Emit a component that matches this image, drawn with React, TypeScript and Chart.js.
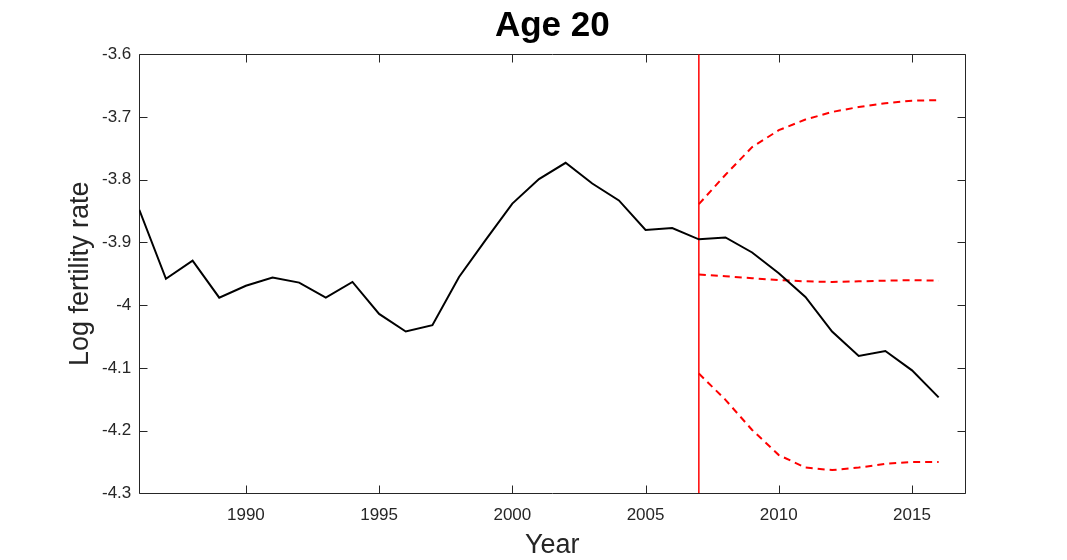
import React, { useEffect, useRef } from "react";
import { Chart, registerables } from "chart.js";

Chart.register(...registerables);

// ---- data ----
const years = [
  1986, 1987, 1988, 1989, 1990, 1991, 1992, 1993, 1994, 1995, 1996,
  1997, 1998, 1999, 2000, 2001, 2002, 2003, 2004, 2005, 2006, 2007,
  2008, 2009, 2010, 2011, 2012, 2013, 2014, 2015, 2016,
];
const observed = [
  -3.848, -3.958, -3.929, -3.988, -3.969, -3.956, -3.964, -3.988, -3.963,
  -4.014, -4.042, -4.032, -3.955, -3.896, -3.838, -3.799, -3.773, -3.806,
  -3.833, -3.88, -3.877, -3.895, -3.892, -3.916, -3.949, -3.987, -4.042,
  -4.081, -4.073, -4.104, -4.147,
];
const forecastYears = [2007, 2008, 2009, 2010, 2011, 2012, 2013, 2014, 2015, 2016];
const forecastMean = [-3.951, -3.954, -3.957, -3.96, -3.962, -3.963, -3.962, -3.961, -3.96, -3.961];
const forecastUpper = [-3.839, -3.792, -3.748, -3.721, -3.704, -3.692, -3.684, -3.678, -3.674, -3.673];
const forecastLower = [-4.109, -4.151, -4.199, -4.239, -4.259, -4.263, -4.259, -4.253, -4.25, -4.25];
const forecastOrigin = 2007;

const xTickValues = [1990, 1995, 2000, 2005, 2010, 2015];
const yTickValues = [-4.3, -4.2, -4.1, -4.0, -3.9, -3.8, -3.7, -3.6];
const xRange = [1986, 2017];
const yRange = [-4.3, -3.6];

const titleText = "Age 20";
const xLabel = "Year";
const yLabel = "Log fertility rate";

const FONT = "'Liberation Sans', Arial, Helvetica, sans-serif";
const AXIS_COLOR = "#262626";

const toPoints = (xs: number[], ys: number[]) => xs.map((x, i) => ({ x, y: ys[i] }));

const boxPlugin = {
  id: "matlabBox",
  beforeDatasetsDraw(chart: any) {
    const { ctx, chartArea: a, scales } = chart;
    const l = Math.round(a.left) + 0.5;
    const r = Math.round(a.right) + 0.5;
    const t = Math.round(a.top) + 0.5;
    const b = Math.round(a.bottom) + 0.5;
    const L = 8;
    ctx.save();
    ctx.strokeStyle = AXIS_COLOR;
    ctx.lineWidth = 1;
    ctx.beginPath();
    ctx.rect(l, t, r - l, b - t);
    for (const tk of scales.x.ticks) {
      const px = Math.round(scales.x.getPixelForValue(tk.value)) + 0.5;
      ctx.moveTo(px, b);
      ctx.lineTo(px, b - L);
      ctx.moveTo(px, t);
      ctx.lineTo(px, t + L);
    }
    for (const tk of scales.y.ticks) {
      const py = Math.round(scales.y.getPixelForValue(tk.value)) + 0.5;
      ctx.moveTo(l, py);
      ctx.lineTo(l + L, py);
      ctx.moveTo(r, py);
      ctx.lineTo(r - L, py);
    }
    ctx.stroke();
    ctx.restore();
  },
};

export default function App() {
  const ref = useRef<HTMLCanvasElement | null>(null);

  useEffect(() => {
    document.body.style.margin = "0";
    const canvas = ref.current;
    if (!canvas) return;
    const chart = new Chart(canvas, {
      type: "line",
      data: {
        datasets: [
          {
            data: toPoints(years, observed),
            borderColor: "#000000",
            borderWidth: 2,
            pointRadius: 0,
            tension: 0,
          },
          {
            data: toPoints(forecastYears, forecastUpper),
            borderColor: "#ff0000",
            borderWidth: 2,
            borderDash: [7, 5],
            pointRadius: 0,
            tension: 0,
          },
          {
            data: toPoints(forecastYears, forecastMean),
            borderColor: "#ff0000",
            borderWidth: 2,
            borderDash: [7, 5],
            pointRadius: 0,
            tension: 0,
          },
          {
            data: toPoints(forecastYears, forecastLower),
            borderColor: "#ff0000",
            borderWidth: 2,
            borderDash: [7, 5],
            pointRadius: 0,
            tension: 0,
          },
          {
            data: [
              { x: forecastOrigin, y: yRange[1] },
              { x: forecastOrigin, y: yRange[0] },
            ],
            borderColor: "#ff0000",
            borderWidth: 1.5,
            pointRadius: 0,
            tension: 0,
          },
        ],
      },
      options: {
        animation: false,
        responsive: false,
        devicePixelRatio: 1,
        layout: { padding: { left: 0, right: 101.7, top: 0, bottom: 0 } },
        plugins: {
          legend: { display: false },
          tooltip: { enabled: false },
          title: {
            display: true,
            text: titleText,
            fullSize: false,
            color: "#000000",
            font: { family: FONT, size: 35, weight: "bold", lineHeight: 1.2 },
            padding: { top: 5.5, bottom: 6.8 },
          },
        },
        scales: {
          x: {
            type: "linear",
            min: xRange[0],
            max: xRange[1],
            grid: { display: false, drawTicks: false, tickLength: 0 },
            border: { display: false },
            afterBuildTicks: (s: any) => {
              s.ticks = xTickValues.map((v) => ({ value: v }));
            },
            afterFit: (s: any) => {
              s.height = 66.7;
            },
            ticks: {
              color: AXIS_COLOR,
              font: { family: FONT, size: 17 },
              padding: 12,
              maxRotation: 0,
              autoSkip: false,
              callback: (v: any) => String(v),
            },
            title: {
              display: true,
              text: xLabel,
              color: AXIS_COLOR,
              font: { family: FONT, size: 27, lineHeight: 1.1 },
              padding: { top: 0, bottom: 0 },
            },
          },
          y: {
            type: "linear",
            min: yRange[0],
            max: yRange[1],
            grid: { display: false, drawTicks: false, tickLength: 0 },
            border: { display: false },
            afterBuildTicks: (s: any) => {
              s.ticks = yTickValues.map((v) => ({ value: v }));
            },
            afterFit: (s: any) => {
              s.width = 139.3;
            },
            ticks: {
              color: AXIS_COLOR,
              font: { family: FONT, size: 17 },
              padding: 8,
              autoSkip: false,
              callback: (v: any) => String(Number(Number(v).toFixed(1))),
            },
            title: {
              display: true,
              text: yLabel,
              color: AXIS_COLOR,
              font: { family: FONT, size: 27, lineHeight: 1.1 },
              padding: { top: 66, bottom: 0 },
            },
          },
        },
      },
      plugins: [boxPlugin],
    } as any);
    return () => chart.destroy();
  }, []);

  return (
    <div style={{ position: "absolute", left: 0, top: 0, width: 1067, height: 560, background: "#ffffff" }}>
      <canvas ref={ref} width={1067} height={560} style={{ display: "block" }} />
    </div>
  );
}
